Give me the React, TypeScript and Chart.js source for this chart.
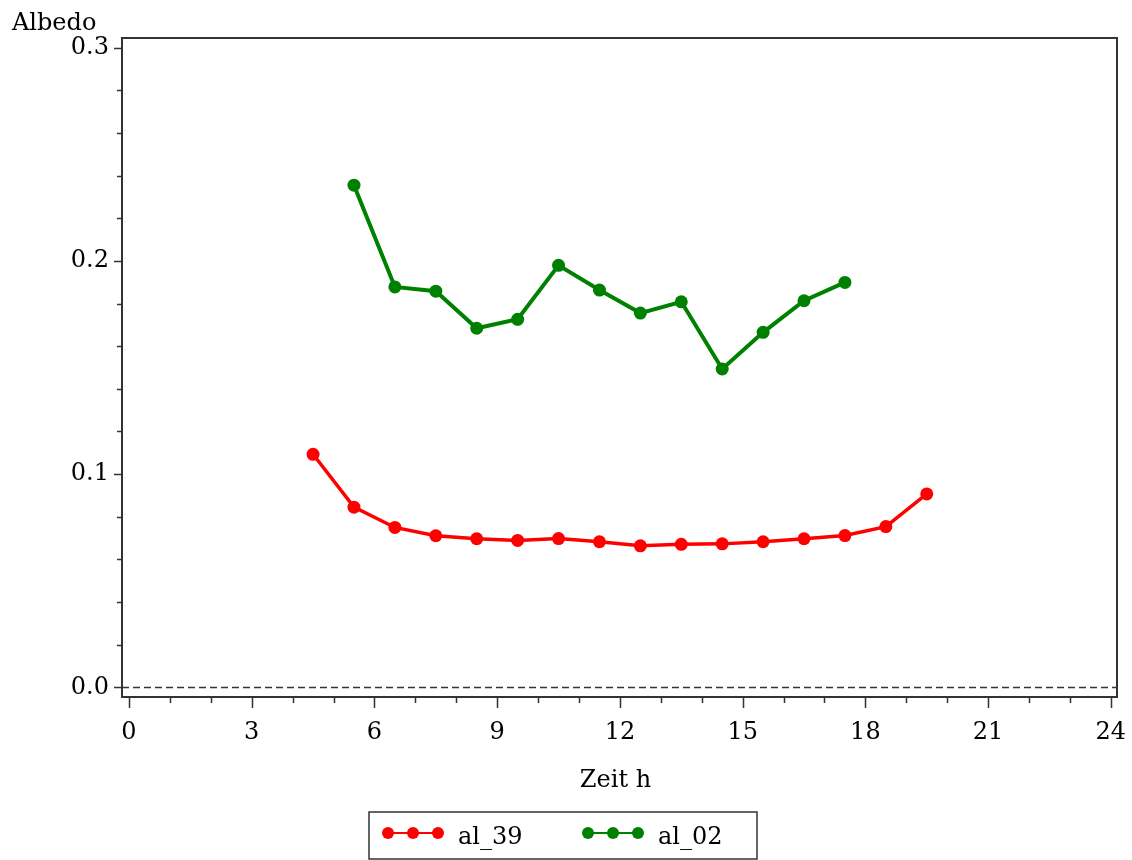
import React, { useEffect, useRef } from "react";
import { Chart, registerables } from "chart.js";

Chart.register(...registerables);

// ---- data ----
const hours39 = [4.5, 5.5, 6.5, 7.5, 8.5, 9.5, 10.5, 11.5, 12.5, 13.5, 14.5, 15.5, 16.5, 17.5, 18.5, 19.5];
const albedo39 = [0.1093, 0.0845, 0.075, 0.0711, 0.0697, 0.0689, 0.0698, 0.0683, 0.0664, 0.0671, 0.0673, 0.0683, 0.0697, 0.0712, 0.0754, 0.0907];
const hours02 = [5.5, 6.5, 7.5, 8.5, 9.5, 10.5, 11.5, 12.5, 13.5, 14.5, 15.5, 16.5, 17.5];
const albedo02 = [0.2355, 0.1878, 0.1858, 0.1684, 0.1726, 0.1979, 0.1863, 0.1755, 0.1808, 0.1493, 0.1665, 0.1813, 0.1899];
const seriesNames = ["al_39", "al_02"];
const seriesColors = ["#ff0000", "#008000"];

const xMajorTicks = [0, 3, 6, 9, 12, 15, 18, 21, 24];
const xMinorTicks = [1, 2, 4, 5, 7, 8, 10, 11, 13, 14, 16, 17, 19, 20, 22, 23];
const yMajorTicks = [0, 0.1, 0.2, 0.3];
const yMinorTicks = [0.02, 0.04, 0.06, 0.08, 0.12, 0.14, 0.16, 0.18, 0.22, 0.24, 0.26, 0.28];
const xTitle = "Zeit h";
const yTitle = "Albedo";

const FONT = '"DejaVu Serif", serif';
const FSIZE = 24;
const AXIS = "#333333";

const framePlugin = {
  id: "framePlugin",
  beforeDatasetsDraw(chart: any) {
    const ctx = chart.ctx;
    const { left, right } = chart.chartArea;
    const y0 = chart.scales.y.getPixelForValue(0);
    ctx.save();
    ctx.strokeStyle = AXIS;
    ctx.lineWidth = 1.5;
    ctx.setLineDash([7, 4]);
    ctx.beginPath();
    ctx.moveTo(left, y0);
    ctx.lineTo(right, y0);
    ctx.stroke();
    ctx.restore();
  },
  afterDraw(chart: any) {
    const ctx = chart.ctx;
    const { left, right, top, bottom } = chart.chartArea;
    const xs = chart.scales.x;
    const ys = chart.scales.y;
    ctx.save();
    ctx.strokeStyle = AXIS;
    ctx.lineWidth = 2;
    ctx.setLineDash([]);
    ctx.strokeRect(left, top, right - left, bottom - top);
    ctx.lineWidth = 1.5;
    ctx.beginPath();
    xMajorTicks.forEach((v) => {
      const p = Math.round(xs.getPixelForValue(v)) + 0.5;
      ctx.moveTo(p, bottom);
      ctx.lineTo(p, bottom + 11);
    });
    xMinorTicks.forEach((v) => {
      const p = Math.round(xs.getPixelForValue(v)) + 0.5;
      ctx.moveTo(p, bottom);
      ctx.lineTo(p, bottom + 6);
    });
    yMajorTicks.forEach((v) => {
      const p = Math.round(ys.getPixelForValue(v)) + 0.5;
      ctx.moveTo(left, p);
      ctx.lineTo(left - 8, p);
    });
    yMinorTicks.forEach((v) => {
      const p = Math.round(ys.getPixelForValue(v)) + 0.5;
      ctx.moveTo(left, p);
      ctx.lineTo(left - 5, p);
    });
    ctx.stroke();

    // titles
    ctx.fillStyle = "#000";
    ctx.font = `${FSIZE}px ${FONT}`;
    ctx.textBaseline = "alphabetic";
    ctx.textAlign = "left";
    ctx.fillText(yTitle, 12, 30);
    ctx.textAlign = "center";
    ctx.fillText(xTitle, (left + right) / 2 - 4, 787);

    // legend
    const bx = 369, by = 812, bw = 388, bh = 47;
    ctx.lineWidth = 1.5;
    ctx.strokeStyle = AXIS;
    ctx.strokeRect(bx, by, bw, bh);
    const cy = 833;
    const starts = [388, 588];
    chart.data.datasets.forEach((ds: any, i: number) => {
      const sx = starts[i];
      ctx.strokeStyle = ds.borderColor;
      ctx.fillStyle = ds.borderColor;
      ctx.lineWidth = 2;
      ctx.beginPath();
      ctx.moveTo(sx, cy);
      ctx.lineTo(sx + 50, cy);
      ctx.stroke();
      [0, 25, 50].forEach((d) => {
        ctx.beginPath();
        ctx.arc(sx + d, cy, 6, 0, Math.PI * 2);
        ctx.fill();
      });
      ctx.fillStyle = "#000";
      ctx.textAlign = "left";
      ctx.fillText(ds.label, sx + 70, 844);
    });
    ctx.restore();
  },
};

export default function App() {
  const ref = useRef<HTMLCanvasElement | null>(null);
  useEffect(() => {
    if (!ref.current) return;
    const mk = (xs: number[], ys: number[]) => xs.map((x, i) => ({ x, y: ys[i] }));
    const chart = new Chart(ref.current, {
      type: "line",
      data: {
        datasets: [
          {
            label: seriesNames[0],
            data: mk(hours39, albedo39),
            borderColor: seriesColors[0],
            backgroundColor: seriesColors[0],
            borderWidth: 3.5,
            pointRadius: 6.5,
            pointHoverRadius: 6.5,
            pointBorderWidth: 0,
            tension: 0,
          },
          {
            label: seriesNames[1],
            data: mk(hours02, albedo02),
            borderColor: seriesColors[1],
            backgroundColor: seriesColors[1],
            borderWidth: 4,
            pointRadius: 6.5,
            pointHoverRadius: 6.5,
            pointBorderWidth: 0,
            tension: 0,
          },
        ],
      },
      options: {
        animation: false,
        responsive: false,
        devicePixelRatio: 1,
        layout: { autoPadding: false, padding: { left: 0, top: 38, right: 15, bottom: 0 } },
        plugins: { legend: { display: false }, title: { display: false }, tooltip: { enabled: false } },
        scales: {
          x: {
            type: "linear",
            min: -0.17,
            max: 24.15,
            grid: { display: false, drawTicks: false },
            border: { display: false },
            afterBuildTicks: (s: any) => {
              s.ticks = xMajorTicks.map((v) => ({ value: v }));
            },
            afterFit: (s: any) => {
              s.height = 163;
              s.paddingLeft = 0;
              s.paddingRight = 0;
            },
            ticks: {
              autoSkip: false,
              maxRotation: 0,
              padding: 21,
              color: "#000",
              font: { family: FONT, size: FSIZE },
              callback: (v: any) => String(v),
            },
          },
          y: {
            type: "linear",
            min: -0.0045,
            max: 0.3045,
            grid: { display: false, drawTicks: false },
            border: { display: false },
            afterBuildTicks: (s: any) => {
              s.ticks = yMajorTicks.map((v) => ({ value: v }));
            },
            afterFit: (s: any) => {
              s.width = 122;
              s.paddingTop = 0;
              s.paddingBottom = 0;
            },
            ticks: {
              autoSkip: false,
              padding: 13,
              color: "#000",
              font: { family: FONT, size: FSIZE },
              callback: (v: any) => Number(v).toFixed(1),
            },
          },
        },
      },
      plugins: [framePlugin],
    });
    return () => chart.destroy();
  }, []);
  return (
    <div style={{ position: "absolute", left: 0, top: 0, width: 1132, height: 860, background: "#fff", overflow: "hidden" }}>
      <canvas ref={ref} width={1132} height={860} style={{ display: "block", width: 1132, height: 860 }} />
    </div>
  );
}
